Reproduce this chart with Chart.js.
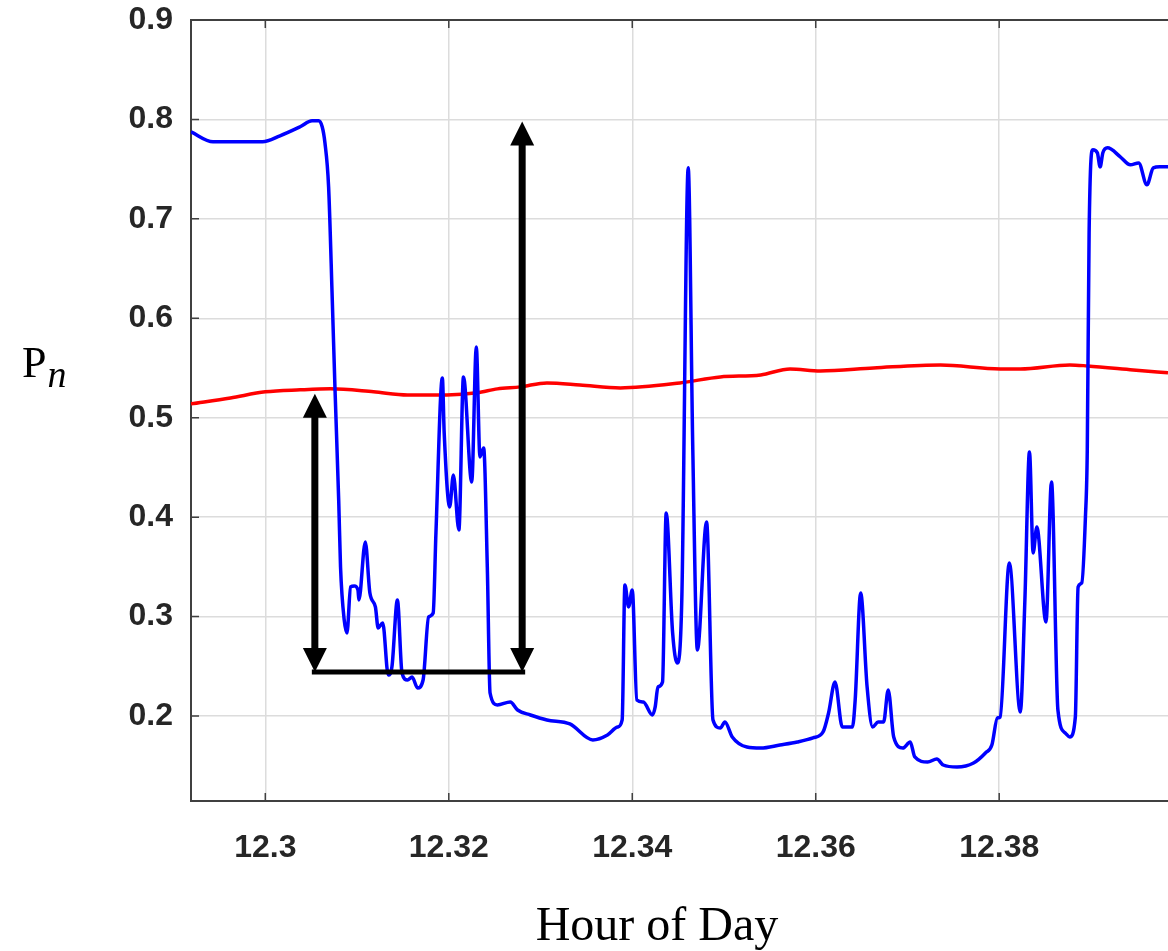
<!DOCTYPE html>
<html>
<head>
<meta charset="utf-8">
<script src="https://cdn.jsdelivr.net/npm/chart.js@4.4.1/dist/chart.umd.min.js"></script>
<style>
  html, body { margin: 0; padding: 0; background: #fff; }
  #wrap { position: relative; width: 1168px; height: 951px; overflow: hidden; }
  #chart { position: absolute; left: 0; top: 0; }
  .axis-title { position: absolute; font-family: 'Liberation Serif', 'Times New Roman', serif; color: #000; white-space: nowrap; }
  #ytitle { left: 22px; top: 341px; font-size: 44px; line-height: 44px; }
  #ytitle i { font-size: 38px; position: relative; top: 10px; margin-left: 1px; }
  #xtitle { left: 657px; top: 900px; font-size: 48px; line-height: 48px; transform: translateX(-50%); }
</style>
</head>
<body>
<div id="wrap">
  <canvas id="chart" width="1168" height="951"></canvas>
  <div id="ytitle" class="axis-title">P<i>n</i></div>
  <div id="xtitle" class="axis-title">Hour of Day</div>
</div>
<script>
// blue trace (hour of day, Pn)
const blueX = [12.2919, 12.2943, 12.2997, 12.3016, 12.3038, 12.3051, 12.3058, 12.3062, 12.3065, 12.3069,
  12.3073, 12.3076, 12.3080, 12.3082, 12.3086, 12.3089, 12.3093, 12.3097, 12.3101, 12.3102,
  12.3109, 12.3114, 12.3120, 12.3123, 12.3128, 12.3134, 12.3138, 12.3144, 12.3149, 12.3155,
  12.3160, 12.3166, 12.3172, 12.3178, 12.3183, 12.3186, 12.3193, 12.3195, 12.3201, 12.3205,
  12.3211, 12.3216, 12.3225, 12.3230, 12.3234, 12.3238, 12.3242, 12.3245, 12.3253, 12.3267,
  12.3275, 12.3289, 12.3307, 12.3332, 12.3357, 12.3373, 12.3384, 12.3389, 12.3392, 12.3396,
  12.3400, 12.3405, 12.3412, 12.3422, 12.3425, 12.3428, 12.3433, 12.3437, 12.3444, 12.3449,
  12.3454, 12.3461, 12.3466, 12.3471, 12.3481, 12.3488, 12.3496, 12.3501, 12.3509, 12.3525,
  12.3540, 12.3561, 12.3580, 12.3597, 12.3608, 12.3614, 12.3621, 12.3629, 12.3640, 12.3643,
  12.3649, 12.3656, 12.3662, 12.3668, 12.3674, 12.3679, 12.3685, 12.3695, 12.3703, 12.3708,
  12.3722, 12.3732, 12.3739, 12.3754, 12.3772, 12.3785, 12.3792, 12.3798, 12.3801, 12.3811,
  12.3823, 12.3828, 12.3833, 12.3837, 12.3841, 12.3851, 12.3857, 12.3864, 12.3872, 12.3877,
  12.3883, 12.3886, 12.3890, 12.3894, 12.3896, 12.3898, 12.3902, 12.3907, 12.3910, 12.3913,
  12.3918, 12.3932, 12.3943, 12.3952, 12.3961, 12.3968, 12.3975, 12.3984];
const blueY = [0.7875, 0.7775, 0.7775, 0.7835, 0.7926, 0.7986, 0.7986, 0.7926, 0.7765, 0.7322,
  0.6185, 0.5280, 0.4173, 0.3499, 0.2966, 0.2835, 0.3298, 0.3308, 0.3268, 0.3167,
  0.3751, 0.3237, 0.3097, 0.2885, 0.2936, 0.2412, 0.2493, 0.3167, 0.2433, 0.2362,
  0.2392, 0.2282, 0.2362, 0.2996, 0.3036, 0.3841, 0.5400, 0.4847, 0.4103, 0.4425,
  0.3871, 0.5410, 0.4354, 0.5712, 0.4606, 0.4696, 0.3499, 0.2231, 0.2111, 0.2141,
  0.2060, 0.2010, 0.1960, 0.1920, 0.1759, 0.1809, 0.1889, 0.1960, 0.3318, 0.3097,
  0.3268, 0.2161, 0.2141, 0.2010, 0.2091, 0.2292, 0.2342, 0.4042, 0.2835, 0.2533,
  0.3167, 0.7513, 0.4676, 0.2664, 0.3952, 0.1960, 0.1879, 0.1940, 0.1789, 0.1688,
  0.1678, 0.1708, 0.1738, 0.1779, 0.1839, 0.2030, 0.2342, 0.1889, 0.1889, 0.2161,
  0.3237, 0.2292, 0.1889, 0.1940, 0.1940, 0.2262, 0.1789, 0.1678, 0.1738, 0.1588,
  0.1537, 0.1567, 0.1507, 0.1487, 0.1527, 0.1628, 0.1708, 0.1980, 0.1990, 0.3539,
  0.2040, 0.3167, 0.4656, 0.3640, 0.3901, 0.2946, 0.4354, 0.2060, 0.1829, 0.1789,
  0.1990, 0.3298, 0.3338, 0.4002, 0.4676, 0.6859, 0.7694, 0.7664, 0.7523, 0.7664,
  0.7714, 0.7624, 0.7543, 0.7563, 0.7342, 0.7513, 0.7523, 0.7523];

// red trace
const redX = [12.2919, 12.2962, 12.3000, 12.3038, 12.3071, 12.3118, 12.3155, 12.3198, 12.3231, 12.3253,
  12.3278, 12.3307, 12.3343, 12.3387, 12.3452, 12.3496, 12.3540, 12.3572, 12.3605, 12.3663,
  12.3736, 12.3801, 12.3823, 12.3877, 12.3896, 12.3946, 12.3984];
const redY = [0.5139, 0.5199, 0.5260, 0.5280, 0.5290, 0.5260, 0.5229, 0.5229, 0.5250, 0.5290,
  0.5310, 0.5350, 0.5330, 0.5300, 0.5350, 0.5410, 0.5430, 0.5491, 0.5471, 0.5501,
  0.5531, 0.5491, 0.5491, 0.5531, 0.5521, 0.5481, 0.5451];

const xTicks = [12.30, 12.32, 12.34, 12.36, 12.38];
const yTicks = [0.2, 0.3, 0.4, 0.5, 0.6, 0.7, 0.8, 0.9];

// annotation arrows (data units)
const arrowX = [12.3054, 12.3280];
const arrowTop = [0.524, 0.798];
const arrowBase = 0.2443;

const axisColor = '#404040';

const framePlugin = {
  id: 'frame',
  beforeDatasetsDraw(chart) {
    const { ctx, chartArea: a, scales: { x, y } } = chart;
    ctx.save();
    ctx.strokeStyle = axisColor;
    ctx.lineWidth = 2;
    ctx.beginPath();
    ctx.moveTo(a.left, a.top); ctx.lineTo(a.right, a.top);
    ctx.stroke();
    ctx.lineWidth = 1.5;
    ctx.beginPath();
    xTicks.forEach(v => {
      const px = x.getPixelForValue(v);
      ctx.moveTo(px, a.bottom); ctx.lineTo(px, a.bottom - 8);
      ctx.moveTo(px, a.top); ctx.lineTo(px, a.top + 8);
    });
    yTicks.forEach(v => {
      const py = y.getPixelForValue(v);
      ctx.moveTo(a.left, py); ctx.lineTo(a.left + 8, py);
    });
    ctx.stroke();
    ctx.restore();
  }
};

const arrowPlugin = {
  id: 'arrows',
  afterDatasetsDraw(chart) {
    const { ctx, scales: { x, y } } = chart;
    const yb = y.getPixelForValue(arrowBase);
    const head = 24, half = 12;
    ctx.save();
    ctx.fillStyle = '#000';
    ctx.strokeStyle = '#000';
    ctx.lineWidth = 5;
    ctx.beginPath();
    ctx.moveTo(x.getPixelForValue(arrowX[0]) - 3, yb);
    ctx.lineTo(x.getPixelForValue(arrowX[1]) + 3, yb);
    ctx.stroke();
    arrowX.forEach((v, i) => {
      const px = x.getPixelForValue(v);
      const yt = y.getPixelForValue(arrowTop[i]);
      ctx.lineWidth = 7;
      ctx.beginPath();
      ctx.moveTo(px, yt + head - 2);
      ctx.lineTo(px, yb - head + 2);
      ctx.stroke();
      ctx.beginPath();
      ctx.moveTo(px, yt); ctx.lineTo(px - half, yt + head); ctx.lineTo(px + half, yt + head);
      ctx.closePath(); ctx.fill();
      ctx.beginPath();
      ctx.moveTo(px, yb); ctx.lineTo(px - half, yb - head); ctx.lineTo(px + half, yb - head);
      ctx.closePath(); ctx.fill();
    });
    ctx.restore();
  }
};

const tickFont = { family: "'Liberation Sans', Arial, sans-serif", size: 32, weight: 'bold' };

new Chart(document.getElementById('chart').getContext('2d'), {
  type: 'line',
  data: {
    datasets: [{
      data: blueX.map((v, i) => ({ x: v, y: blueY[i] })),
      borderColor: '#0000ff',
      borderWidth: 3.5,
      pointRadius: 0,
      cubicInterpolationMode: 'monotone'
    }, {
      data: redX.map((v, i) => ({ x: v, y: redY[i] })),
      borderColor: '#ff0000',
      borderWidth: 3.5,
      pointRadius: 0,
      cubicInterpolationMode: 'monotone'
    }]
  },
  options: {
    responsive: false,
    animation: false,
    devicePixelRatio: 1,
    layout: { padding: { top: 20, left: 0, right: 0, bottom: 0 } },
    plugins: { legend: { display: false }, tooltip: { enabled: false } },
    scales: {
      x: {
        type: 'linear',
        min: 12.2919,
        max: 12.3984,
        afterBuildTicks: s => { s.ticks = xTicks.map(v => ({ value: v })); },
        afterFit: s => { s.height = 150; s.paddingLeft = 0; s.paddingRight = 0; },
        grid: { color: '#dcdcdc', lineWidth: 1.5, drawTicks: false },
        border: { display: true, color: axisColor, width: 2 },
        ticks: {
          padding: 28,
          color: '#262626',
          font: tickFont,
          maxRotation: 0,
          callback: v => String(Number(v.toFixed(2)))
        }
      },
      y: {
        min: 0.1145,
        max: 0.9,
        afterBuildTicks: s => { s.ticks = yTicks.map(v => ({ value: v })); },
        afterFit: s => { s.width = 191; s.paddingTop = 0; s.paddingBottom = 0; },
        grid: { color: '#dcdcdc', lineWidth: 1.5, drawTicks: false },
        border: { display: true, color: axisColor, width: 2 },
        ticks: {
          padding: 18,
          color: '#262626',
          font: tickFont,
          callback: v => v.toFixed(1)
        }
      }
    }
  },
  plugins: [framePlugin, arrowPlugin]
});
</script>
</body>
</html>
